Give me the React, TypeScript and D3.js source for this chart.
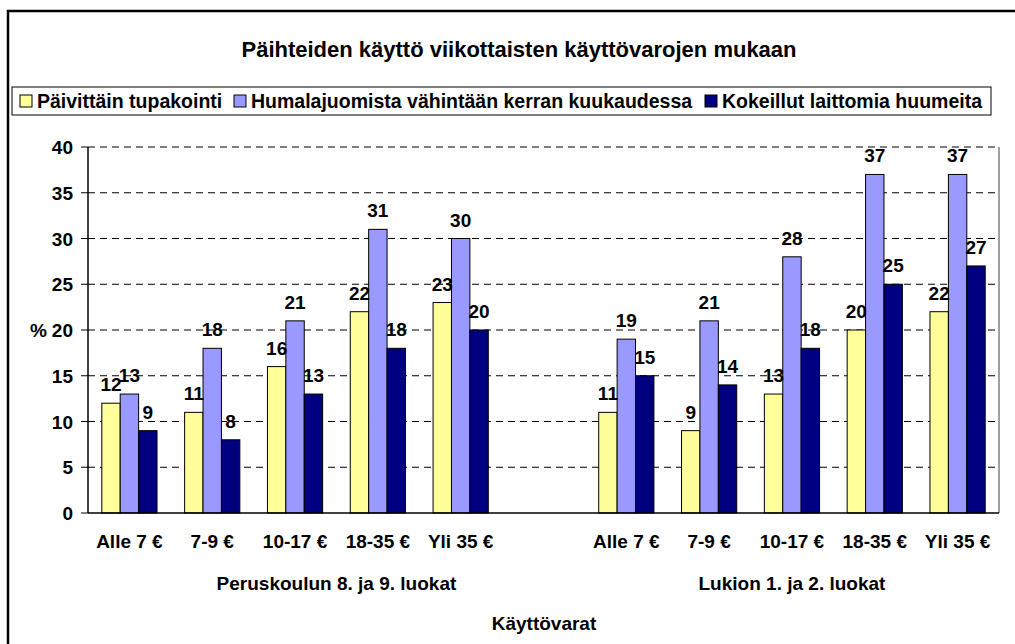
import React from "react";
import * as d3 from "d3";

const groups = ["Peruskoulun 8. ja 9. luokat", "Lukion 1. ja 2. luokat"];
const categories = ["Alle 7 €", "7-9 €", "10-17 €", "18-35 €", "Yli 35 €"];
const seriesNames = [
  "Päivittäin tupakointi",
  "Humalajuomista vähintään kerran kuukaudessa",
  "Kokeillut laittomia huumeita",
];
const colors = ["#FFFF99", "#9999FF", "#000080"];
// values per group, per series, per category
const peruskoulu = [
  [12, 11, 16, 22, 23],
  [13, 18, 21, 31, 30],
  [9, 8, 13, 18, 20],
];
const lukio = [
  [11, 9, 13, 20, 22],
  [19, 21, 28, 37, 37],
  [15, 14, 18, 25, 27],
];
const yTicks = [0, 5, 10, 15, 20, 25, 30, 35, 40];

const W = 1015;
const H = 644;
const left = 88;
const right = 999;
const top = 147;
const bottom = 513;
const font = "'Liberation Sans', Arial, sans-serif";
const fs = 19;

// 11 slots: 5 categories, an empty slot, 5 categories
const slots = d3.range(11).map(String);

export default function App() {
  const x = d3.scaleBand<string>().domain(slots).range([left, right]).paddingInner(0).paddingOuter(0);
  const y = d3.scaleLinear().domain([0, 40]).range([bottom, top]);
  const slotW = x.bandwidth();
  const barW = slotW / 4.5;

  const bars: { slot: number; s: number; v: number }[] = [];
  [peruskoulu, lukio].forEach((data, g) => {
    data.forEach((vals, s) => {
      vals.forEach((v, c) => bars.push({ slot: g * 6 + c, s, v }));
    });
  });

  const barX = (slot: number, s: number) =>
    (x(String(slot)) as number) + slotW / 2 - 1.5 * barW + s * barW;

  const groupCenters = [
    ((x("0") as number) + (x("5") as number) + slotW) / 2,
    ((x("6") as number) + (x("10") as number) + slotW) / 2,
  ];

  const legendItems = [
    { x: 20, tx: 37 },
    { x: 234, tx: 251 },
    { x: 705, tx: 722 },
  ];

  return (
    <svg width={W} height={H} style={{ position: "absolute", left: 0, top: 0, background: "#fff" }} fontFamily={font}>
      <rect x={8} y={11} width={1020} height={640} fill="#fff" stroke="#000" strokeWidth={2.5} />
      <text x={519} y={57} textAnchor="middle" fontSize={22} fontWeight="bold">
        Päihteiden käyttö viikottaisten käyttövarojen mukaan
      </text>

      {/* legend */}
      <rect x={12} y={87} width={979} height={28} fill="#fff" stroke="#000" strokeWidth={1} />
      {seriesNames.map((n, i) => (
        <g key={n}>
          <rect x={legendItems[i].x} y={95} width={12} height={12} fill={colors[i]} stroke="#000" strokeWidth={1} />
          <text x={legendItems[i].tx} y={108} fontSize={fs + 0.5} fontWeight="bold">
            {n}
          </text>
        </g>
      ))}

      {/* gridlines */}
      {yTicks.filter((t) => t > 0).map((t) => (
        <line key={t} x1={left} x2={right} y1={y(t)} y2={y(t)} stroke="#000" strokeWidth={1} strokeDasharray="7,5" />
      ))}
      <line x1={right} x2={right} y1={top} y2={bottom} stroke="#808080" strokeWidth={1.5} />

      {/* bars */}
      {bars.map((b, i) => (
        <rect
          key={i}
          x={barX(b.slot, b.s)}
          y={y(b.v)}
          width={barW}
          height={bottom - y(b.v)}
          fill={colors[b.s]}
          stroke="#000"
          strokeWidth={1}
        />
      ))}
      {bars.map((b, i) => (
        <text
          key={"l" + i}
          x={barX(b.slot, b.s) + barW / 2}
          y={y(b.v) - 12}
          textAnchor="middle"
          fontSize={fs}
          fontWeight="bold"
        >
          {b.v}
        </text>
      ))}

      {/* axes */}
      <line x1={left} x2={left} y1={top} y2={bottom} stroke="#000" strokeWidth={1.5} />
      <line x1={left} x2={right} y1={bottom} y2={bottom} stroke="#000" strokeWidth={1.5} />
      {yTicks.map((t) => (
        <g key={"t" + t}>
          <line x1={left - 7} x2={left} y1={y(t)} y2={y(t)} stroke="#000" />
          <text x={73} y={y(t) + 7} textAnchor="end" fontSize={fs} fontWeight="bold">
            {t}
          </text>
        </g>
      ))}
      <text x={30} y={y(20) + 7} fontSize={fs} fontWeight="bold">
        %
      </text>

      {[0, 1].map((g) =>
        categories.map((c, i) => (
          <text
            key={g + c}
            x={(x(String(g * 6 + i)) as number) + slotW / 2}
            y={548}
            textAnchor="middle"
            fontSize={fs}
            fontWeight="bold"
          >
            {c}
          </text>
        ))
      )}
      {groups.map((g, i) => (
        <text key={g} x={groupCenters[i]} y={590} textAnchor="middle" fontSize={fs} fontWeight="bold">
          {g}
        </text>
      ))}
      <text x={544} y={630} textAnchor="middle" fontSize={fs} fontWeight="bold">
        Käyttövarat
      </text>
    </svg>
  );
}
